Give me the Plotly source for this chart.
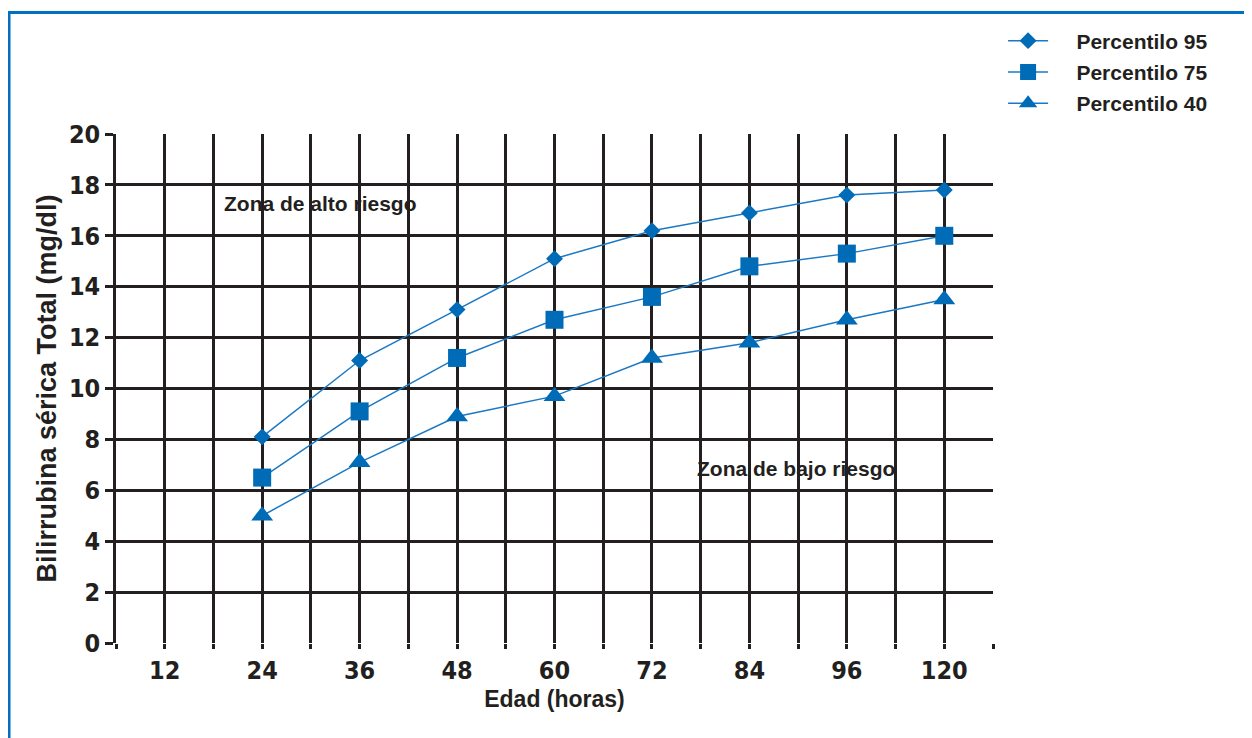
import plotly.graph_objects as go

# Data
edad_labels = ["12", "24", "36", "48", "60", "72", "84", "96", "120"]
edad_p = ["24", "36", "48", "60", "72", "84", "96", "120"]
p95 = [8.1, 11.1, 13.1, 15.1, 16.2, 16.9, 17.6, 17.8]
p75 = [6.5, 9.1, 11.2, 12.7, 13.6, 14.8, 15.3, 16.0]
p40 = [5.0, 7.1, 8.9, 9.7, 11.2, 11.8, 12.7, 13.5]
y_ticks = list(range(0, 21, 2))

BLUE = "#006bb6"
LINE = "#1b78c4"
INK = "#231f20"
TEXT_FONT = "Liberation Sans, Arial, Helvetica, sans-serif"
NARROW_FONT = "Liberation Sans Narrow, Arial Narrow, DejaVu Sans Condensed, sans-serif"

idx = {lab: i for i, lab in enumerate(edad_labels)}
xs = [idx[e] for e in edad_p]

NB = "\u00a0"
fig = go.Figure()
series = [("Percentilo 95", p95, "diamond", 13),
          ("Percentilo 75", p75, "square", 18),
          ("Percentilo 40", p40, "triangle-up", 19)]
for name, vals, sym, size in series:
    fig.add_trace(go.Scatter(
        x=xs, y=vals, name=NB * 4 + name, mode="lines+markers",
        line=dict(color=LINE, width=1.5),
        marker=dict(symbol=sym, size=size, color=BLUE, line=dict(width=0)),
        legendgroup=name, cliponaxis=False,
    ))

grid_minor = [i + 0.5 for i in range(-1, len(edad_labels))]

fig.update_layout(
    width=1244, height=730,
    margin=dict(l=108, r=259, t=124, b=95),
    plot_bgcolor="white", paper_bgcolor="white",
    showlegend=True,
    legend=dict(x=1.0115, y=1.223, xanchor="left", yanchor="top",
                font=dict(family=TEXT_FONT, size=21, color=INK, weight="bold"),
                bgcolor="rgba(0,0,0,0)", traceorder="grouped", tracegroupgap=1,
                itemwidth=40),
    xaxis=dict(range=[-0.5, 8.5], tickmode="array",
               tickvals=list(range(len(edad_labels))), ticktext=edad_labels,
               showgrid=True, gridcolor=INK, gridwidth=2.5,
               ticks="outside", ticklen=5, tickwidth=2.5, tickcolor=INK,
               minor=dict(tickvals=grid_minor, showgrid=True, gridcolor=INK,
                          gridwidth=2.5, ticks="outside", ticklen=5,
                          tickwidth=2.5, tickcolor=INK),
               tickfont=dict(family=NARROW_FONT, size=25, color=INK, weight="bold"),
               zeroline=False, showline=False,
               title=dict(text="Edad (horas)", standoff=6,
                          font=dict(family=TEXT_FONT, size=23, color=INK, weight="bold"))),
    yaxis=dict(range=[0, 20], tickmode="array", tickvals=y_ticks,
               showgrid=True, gridcolor=INK, gridwidth=2.5,
               ticks="outside", ticklen=8, tickwidth=2.5, tickcolor=INK,
               tickfont=dict(family=NARROW_FONT, size=25, color=INK, weight="bold"),
               zeroline=False, showline=True, linecolor=INK, linewidth=2.5,
               title=dict(text="Bilirrubina sérica Total (mg/dl)", standoff=5,
                          font=dict(family=TEXT_FONT, size=27, color=INK, weight="bold"))),
)

ann_font = dict(family=TEXT_FONT, size=21, color=INK, weight="bold")
fig.add_annotation(x=0.588, y=17.26, xref="x", yref="y", text="Zona de alto riesgo",
                   showarrow=False, xanchor="left", yanchor="middle", font=ann_font)
fig.add_annotation(x=5.442, y=6.85, xref="x", yref="y", text="Zona de bajo riesgo",
                   showarrow=False, xanchor="left", yanchor="middle", font=ann_font)
fig.add_annotation(x=8.654, y=17.26, xref="x", yref="y", text="Intermedio alto",
                   showarrow=False, xanchor="left", yanchor="middle", font=ann_font)
fig.add_annotation(x=8.623, y=14.56, xref="x", yref="y", text="Intermedio bajo",
                   showarrow=False, xanchor="left", yanchor="middle", font=ann_font)

# outer blue frame (left and top edges visible)
fig.add_shape(type="rect", xref="paper", yref="paper",
              x0=-0.122, x1=1.6, y0=-0.5, y1=1.2387,
              line=dict(color="#0070c0", width=3), fillcolor="rgba(0,0,0,0)",
              layer="below")

fig.write_html("out.html")
